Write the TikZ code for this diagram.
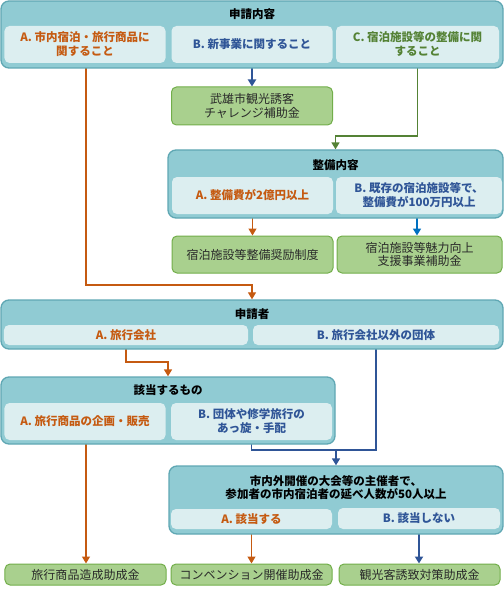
\documentclass[tikz,border=0pt]{standalone}
\usepackage{fontspec}
\newfontfamily\jp{Noto Sans CJK JP}
\usetikzlibrary{arrows.meta}
\pgfdeclarelayer{bg}
\pgfsetlayers{bg,main}
\definecolor{outerfill}{HTML}{90CBD3}
\definecolor{outerborder}{HTML}{5FA7B3}
\definecolor{innerfill}{HTML}{DCEEF0}
\definecolor{greenfill}{HTML}{A9D08E}
\definecolor{greenborder}{HTML}{72AE4A}
\definecolor{corange}{HTML}{C55A11}
\definecolor{cblue}{HTML}{2F5597}
\definecolor{cgreen}{HTML}{548235}
\definecolor{cbright}{HTML}{0070C0}
\definecolor{gtext}{HTML}{2A2A2A}
\begin{document}
\begin{tikzpicture}[x=1bp,y=-1bp,
  outerbox/.style={draw=outerborder, fill=outerfill, rounded corners=8bp, line width=1.3bp, inner sep=0pt},
  innerbox/.style={fill=innerfill, rounded corners=5bp, inner sep=0pt, align=center, font=\jp\bfseries\fontsize{11.5bp}{14bp}\selectfont},
  titletext/.style={inner sep=0pt, align=center, font=\jp\bfseries\fontsize{11.5bp}{13bp}\selectfont, text=black},
  greenbox/.style={fill=greenfill, draw=greenborder, line width=1bp, rounded corners=5bp, inner sep=0pt, align=center, text=gtext, font=\jp\fontsize{12bp}{13.5bp}\selectfont},
  conn/.style={line width=#1, -{Triangle[width=8bp,length=7bp]}},
  plain/.style={line width=#1}
]
\useasboundingbox (0,0) rectangle (504,589);

% --- 申請内容
\node[outerbox, minimum width=502bp, minimum height=67bp] (c1) at (252,34.5) {};
\node[titletext] (c1t) at (252,14.5) {申請内容};
\node[innerbox, text=corange, minimum width=161bp, minimum height=37bp] (c1a) at (85,44.5) {A. 市内宿泊・旅行商品に\\関すること};
\node[innerbox, text=cblue, minimum width=161bp, minimum height=37bp] (c1b) at (252,44.5) {B. 新事業に関すること};
\node[innerbox, text=cgreen, minimum width=163bp, minimum height=37bp] (c1c) at (417.5,44.5) {C. 宿泊施設等の整備に関\\すること};

\node[greenbox, minimum width=161bp, minimum height=38bp] (g1) at (252,106) {武雄市観光誘客\\チャレンジ補助金};

% --- 整備内容
\node[outerbox, minimum width=335bp, minimum height=68bp] (c2) at (335.5,184) {};
\node[titletext] (c2t) at (335.5,165) {整備内容};
\node[innerbox, text=corange, minimum width=161bp, minimum height=37bp] (c2a) at (252.5,195.5) {A. 整備費が2億円以上};
\node[innerbox, text=cblue, minimum width=166bp, minimum height=37bp] (c2b) at (419,195.5) {B. 既存の宿泊施設等で、\\整備費が100万円以上};

\node[greenbox, minimum width=161bp, minimum height=37bp] (g2a) at (252.5,254.5) {宿泊施設等整備奨励制度};
\node[greenbox, minimum width=165bp, minimum height=37bp] (g2b) at (419.5,254.5) {宿泊施設等魅力向上\\支援事業補助金};

% --- 申請者
\node[outerbox, minimum width=502bp, minimum height=49bp] (c3) at (252,324.5) {};
\node[titletext] (c3t) at (252,314) {申請者};
\node[innerbox, text=corange, minimum width=244bp, minimum height=20bp] (c3a) at (126,335) {A. 旅行会社};
\node[innerbox, text=cblue, minimum width=246bp, minimum height=20bp] (c3b) at (376,335) {B. 旅行会社以外の団体};

% --- 該当するもの
\node[outerbox, minimum width=334bp, minimum height=67bp] (c4) at (168,410.5) {};
\node[titletext] (c4t) at (168,390.5) {該当するもの};
\node[innerbox, text=corange, minimum width=161bp, minimum height=37bp] (c4a) at (85,421.5) {A. 旅行商品の企画・販売};
\node[innerbox, text=cblue, minimum width=161bp, minimum height=37bp] (c4b) at (251.5,421.5) {B. 団体や修学旅行の\\あっ旋・手配};

% --- 大会等
\node[outerbox, minimum width=334bp, minimum height=68bp] (c5) at (336,500) {};
\node[titletext] (c5t) at (336,488) {市内外開催の大会等の主催者で、\\参加者の市内宿泊者の延べ人数が50人以上};
\node[innerbox, text=corange, minimum width=161bp, minimum height=20bp] (c5a) at (251.5,519) {A. 該当する};
\node[innerbox, text=cblue, minimum width=162bp, minimum height=21bp] (c5b) at (419,518.5) {B. 該当しない};

% --- bottom results
\node[greenbox, minimum width=161bp, minimum height=21bp] (g3a) at (85.5,574.5) {旅行商品造成助成金};
\node[greenbox, minimum width=161bp, minimum height=21bp] (g3b) at (251.5,574.5) {コンベンション開催助成金};
\node[greenbox, minimum width=161bp, minimum height=21bp] (g3c) at (419.5,574.5) {観光客誘致対策助成金};

\begin{pgfonlayer}{bg}
  \draw[conn=1.2bp, corange] (c1a.south -| 86,0) |- (252,285) -- (c3.north);
  \draw[conn=2.2bp, cblue] (c1b.south) -- (g1.north);
  \draw[conn=1.6bp, cgreen] (c1c.south) |- (335.5,136) -- (c2.north);
  \draw[conn=1.2bp, corange] (c2a.south) -- (g2a.north -| c2a.south);
  \draw[conn=1.6bp, cbright] (c2b.south -| 417,0) -- (g2b.north -| 417,0);
  \draw[conn=1.6bp, corange] (c3a.south) |- (168,362) -- (c4.north);
  \draw[conn=1.6bp, cblue] (c3b.south) |- (336,450) -- (c5.north);
  \draw[plain=1.6bp, cblue] (c4b.south) |- (336,450);
  \draw[conn=1.2bp, corange] (c4a.south -| 86,0) -- (g3a.north -| 86,0);
  \draw[conn=1.2bp, corange] (c5a.south) -- (g3b.north -| c5a.south);
  \draw[conn=2.2bp, cblue] (c5b.south) -- (g3c.north -| c5b.south);
\end{pgfonlayer}
\end{tikzpicture}
\end{document}
